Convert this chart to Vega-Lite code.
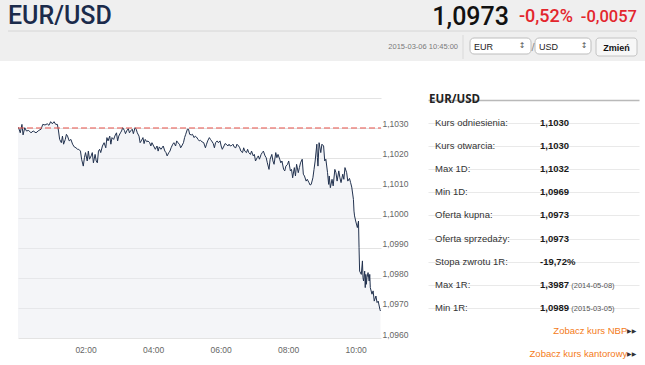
{
  "$schema": "https://vega.github.io/schema/vega-lite/v6.json",
  "padding": 0,
  "background": "#ffffff",
  "spacing": 26,
  "config": {"view": {"stroke": null}, "font": "Liberation Sans"},
  "datasets": {
    "line": [
      {"m":0,"v":1.1030},{"m":1,"v":1.10301},{"m":4,"v":1.10284},{"m":7,"v":1.10312},{"m":9,"v":1.10277},{"m":12,"v":1.10301},{"m":15,"v":1.10290},{"m":19,"v":1.10292},{"m":23,"v":1.10284},{"m":27,"v":1.10290},{"m":32,"v":1.10284},{"m":37,"v":1.10292},{"m":41,"v":1.10296},{"m":44,"v":1.10312},{"m":48,"v":1.10310},{"m":52,"v":1.10314},{"m":55,"v":1.10309},{"m":58,"v":1.10321},{"m":61,"v":1.10314},{"m":64,"v":1.10321},{"m":67,"v":1.10312},{"m":70,"v":1.10312},{"m":72,"v":1.10290},{"m":74,"v":1.10262},{"m":77,"v":1.10251},{"m":79,"v":1.10273},{"m":81,"v":1.10246},{"m":84,"v":1.10262},{"m":86,"v":1.10279},{"m":88,"v":1.10273},{"m":91,"v":1.10257},{"m":94,"v":1.10262},{"m":97,"v":1.10246},{"m":100,"v":1.10237},{"m":103,"v":1.10234},{"m":106,"v":1.10229},{"m":108,"v":1.10229},{"m":111,"v":1.10223},{"m":113,"v":1.10196},{"m":116,"v":1.10173},{"m":118,"v":1.10201},{"m":120,"v":1.10218},{"m":123,"v":1.10190},{"m":125,"v":1.10223},{"m":127,"v":1.10196},{"m":130,"v":1.10207},{"m":132,"v":1.10218},{"m":134,"v":1.10184},{"m":137,"v":1.10212},{"m":139,"v":1.10190},{"m":141,"v":1.10184},{"m":143,"v":1.10223},{"m":145,"v":1.10229},{"m":147,"v":1.10218},{"m":150,"v":1.10240},{"m":153,"v":1.10251},{"m":156,"v":1.10234},{"m":158,"v":1.10268},{"m":160,"v":1.10257},{"m":163,"v":1.10273},{"m":165,"v":1.10246},{"m":167,"v":1.10268},{"m":170,"v":1.10262},{"m":172,"v":1.10273},{"m":175,"v":1.10284},{"m":177,"v":1.10257},{"m":179,"v":1.10273},{"m":182,"v":1.10284},{"m":184,"v":1.10290},{"m":186,"v":1.10301},{"m":189,"v":1.10292},{"m":191,"v":1.10281},{"m":193,"v":1.10290},{"m":196,"v":1.10298},{"m":198,"v":1.10284},{"m":200,"v":1.10290},{"m":203,"v":1.10296},{"m":205,"v":1.10281},{"m":208,"v":1.10301},{"m":210,"v":1.10296},{"m":212,"v":1.10284},{"m":215,"v":1.10273},{"m":217,"v":1.10251},{"m":219,"v":1.10257},{"m":222,"v":1.10268},{"m":224,"v":1.10248},{"m":226,"v":1.10262},{"m":229,"v":1.10254},{"m":231,"v":1.10257},{"m":234,"v":1.10251},{"m":236,"v":1.10240},{"m":238,"v":1.10251},{"m":241,"v":1.10240},{"m":244,"v":1.10229},{"m":247,"v":1.10240},{"m":249,"v":1.10223},{"m":251,"v":1.10237},{"m":254,"v":1.10229},{"m":256,"v":1.10234},{"m":258,"v":1.10240},{"m":261,"v":1.10223},{"m":263,"v":1.10218},{"m":265,"v":1.10207},{"m":268,"v":1.10218},{"m":270,"v":1.10223},{"m":272,"v":1.10234},{"m":275,"v":1.10246},{"m":277,"v":1.10251},{"m":280,"v":1.10240},{"m":282,"v":1.10257},{"m":284,"v":1.10251},{"m":287,"v":1.10246},{"m":289,"v":1.10234},{"m":291,"v":1.10240},{"m":294,"v":1.10251},{"m":296,"v":1.10268},{"m":298,"v":1.10279},{"m":301,"v":1.10296},{"m":303,"v":1.10296},{"m":305,"v":1.10279},{"m":308,"v":1.10277},{"m":310,"v":1.10279},{"m":313,"v":1.10268},{"m":315,"v":1.10273},{"m":317,"v":1.10270},{"m":320,"v":1.10262},{"m":322,"v":1.10257},{"m":324,"v":1.10259},{"m":327,"v":1.10254},{"m":330,"v":1.10251},{"m":333,"v":1.10234},{"m":335,"v":1.10246},{"m":337,"v":1.10257},{"m":340,"v":1.10268},{"m":342,"v":1.10262},{"m":344,"v":1.10257},{"m":347,"v":1.10248},{"m":349,"v":1.10234},{"m":351,"v":1.10251},{"m":354,"v":1.10257},{"m":356,"v":1.10251},{"m":359,"v":1.10257},{"m":361,"v":1.10240},{"m":363,"v":1.10229},{"m":366,"v":1.10240},{"m":368,"v":1.10248},{"m":370,"v":1.10246},{"m":373,"v":1.10240},{"m":375,"v":1.10246},{"m":377,"v":1.10240},{"m":380,"v":1.10242},{"m":382,"v":1.10246},{"m":384,"v":1.10237},{"m":387,"v":1.10234},{"m":389,"v":1.10246},{"m":392,"v":1.10240},{"m":394,"v":1.10234},{"m":396,"v":1.10223},{"m":399,"v":1.10218},{"m":401,"v":1.10234},{"m":403,"v":1.10223},{"m":406,"v":1.10218},{"m":408,"v":1.10229},{"m":410,"v":1.10218},{"m":413,"v":1.10212},{"m":415,"v":1.10223},{"m":418,"v":1.10207},{"m":420,"v":1.10212},{"m":422,"v":1.10190},{"m":425,"v":1.10201},{"m":427,"v":1.10207},{"m":429,"v":1.10196},{"m":432,"v":1.10212},{"m":434,"v":1.10218},{"m":436,"v":1.10223},{"m":439,"v":1.10207},{"m":441,"v":1.10201},{"m":443,"v":1.10184},{"m":446,"v":1.10162},{"m":448,"v":1.10196},{"m":451,"v":1.10212},{"m":453,"v":1.10190},{"m":455,"v":1.10179},{"m":458,"v":1.10218},{"m":460,"v":1.10201},{"m":462,"v":1.10212},{"m":465,"v":1.10196},{"m":467,"v":1.10184},{"m":469,"v":1.10190},{"m":472,"v":1.10162},{"m":474,"v":1.10157},{"m":476,"v":1.10173},{"m":479,"v":1.10179},{"m":481,"v":1.10190},{"m":484,"v":1.10157},{"m":486,"v":1.10162},{"m":488,"v":1.10134},{"m":491,"v":1.10168},{"m":493,"v":1.10140},{"m":495,"v":1.10179},{"m":498,"v":1.10151},{"m":500,"v":1.10168},{"m":502,"v":1.10184},{"m":505,"v":1.10196},{"m":507,"v":1.10146},{"m":509,"v":1.10140},{"m":512,"v":1.10123},{"m":514,"v":1.10129},{"m":517,"v":1.10118},{"m":519,"v":1.10110},{"m":521,"v":1.10112},{"m":524,"v":1.10134},{"m":526,"v":1.10162},{"m":528,"v":1.10190},{"m":531,"v":1.10246},{"m":532,"v":1.10201},{"m":533,"v":1.10173},{"m":535,"v":1.10251},{"m":538,"v":1.10218},{"m":540,"v":1.10246},{"m":543,"v":1.10240},{"m":545,"v":1.10190},{"m":547,"v":1.10196},{"m":550,"v":1.10151},{"m":552,"v":1.10112},{"m":553,"v":1.10140},{"m":555,"v":1.10101},{"m":558,"v":1.10129},{"m":560,"v":1.10107},{"m":563,"v":1.10162},{"m":565,"v":1.10151},{"m":567,"v":1.10123},{"m":570,"v":1.10157},{"m":572,"v":1.10134},{"m":574,"v":1.10118},{"m":577,"v":1.10146},{"m":579,"v":1.10129},{"m":581,"v":1.10168},{"m":584,"v":1.10151},{"m":586,"v":1.10123},{"m":589,"v":1.10132},{"m":591,"v":1.10118},{"m":593,"v":1.10103},{"m":596,"v":1.10062},{"m":597,"v":1.10023},{"m":598,"v":1.10007},{"m":600,"v":1.09990},{"m":603,"v":1.09968},{"m":605,"v":1.09990},{"m":606,"v":1.09901},{"m":607,"v":1.09823},{"m":610,"v":1.09812},{"m":612,"v":1.09857},{"m":613,"v":1.09801},{"m":614,"v":1.09790},{"m":616,"v":1.09823},{"m":617,"v":1.09768},{"m":618,"v":1.09812},{"m":619,"v":1.09779},{"m":620,"v":1.09801},{"m":622,"v":1.09818},{"m":624,"v":1.09790},{"m":625,"v":1.09812},{"m":626,"v":1.09768},{"m":629,"v":1.09746},{"m":631,"v":1.09757},{"m":633,"v":1.09723},{"m":636,"v":1.09740},{"m":638,"v":1.09718},{"m":640,"v":1.09723},{"m":643,"v":1.09696},{"m":644,"v":1.09690}
    ],
    "rows": [
      {"label": "Kurs odniesienia:", "value": "1,1030", "note": ""},
      {"label": "Kurs otwarcia:", "value": "1,1030", "note": ""},
      {"label": "Max 1D:", "value": "1,1032", "note": ""},
      {"label": "Min 1D:", "value": "1,0969", "note": ""},
      {"label": "Oferta kupna:", "value": "1,0973", "note": ""},
      {"label": "Oferta sprzedaży:", "value": "1,0973", "note": ""},
      {"label": "Stopa zwrotu 1R:", "value": "-19,72%", "note": ""},
      {"label": "Max 1R:", "value": "1,3987", "note": "(2014-05-08)"},
      {"label": "Min 1R:", "value": "1,0989", "note": "(2015-03-05)"}
    ]
  },
  "vconcat": [
    {
      "width": 645,
      "height": 61,
      "view": {"fill": "#efefef", "stroke": null},
      "data": {"values": [{"k": 0}]},
      "layer": [
        {
          "data": {"values": [{"t": "EUR/USD"}]},
          "mark": {"type": "text", "align": "left", "baseline": "alphabetic", "dx": 8, "dy": 24, "font": "Roboto", "fontSize": 25, "fontWeight": 500, "color": "#1b2b4b"},
          "encoding": {
            "x": {"datum": 0, "type": "quantitative", "scale": {"domain": [0, 1], "nice": false}, "axis": null},
            "y": {"datum": 1, "type": "quantitative", "scale": {"domain": [0, 1], "nice": false}, "axis": null},
            "text": {"field": "t"}
          }
        },
        {
          "data": {"values": [{"t": "1,0973"}]},
          "mark": {"type": "text", "align": "right", "baseline": "alphabetic", "dx": -136, "dy": 25, "font": "Roboto", "fontSize": 25, "fontWeight": 500, "color": "#111111"},
          "encoding": {"x": {"datum": 1, "type": "quantitative", "axis": null}, "y": {"datum": 1, "type": "quantitative", "axis": null}, "text": {"field": "t"}}
        },
        {
          "data": {"values": [{"t": "-0,52%"}]},
          "mark": {"type": "text", "align": "right", "baseline": "alphabetic", "dx": -72, "dy": 22, "font": "Roboto", "fontSize": 18, "fontWeight": 500, "color": "#e3262d"},
          "encoding": {"x": {"datum": 1, "type": "quantitative", "axis": null}, "y": {"datum": 1, "type": "quantitative", "axis": null}, "text": {"field": "t"}}
        },
        {
          "data": {"values": [{"t": "-0,0057"}]},
          "mark": {"type": "text", "align": "right", "baseline": "alphabetic", "dx": -8, "dy": 22, "font": "Roboto", "fontSize": 16.5, "fontWeight": 500, "color": "#e3262d"},
          "encoding": {"x": {"datum": 1, "type": "quantitative", "axis": null}, "y": {"datum": 1, "type": "quantitative", "axis": null}, "text": {"field": "t"}}
        },
        {
          "mark": {"type": "rule", "color": "#d6d6d6", "strokeWidth": 1, "xOffset": 8, "x2Offset": -8, "yOffset": 31},
          "encoding": {"x": {"datum": 0, "type": "quantitative", "axis": null}, "x2": {"datum": 1}, "y": {"datum": 1, "type": "quantitative", "axis": null}}
        },
        {
          "data": {"values": [{"t": "2015-03-06 10:45:00"}]},
          "mark": {"type": "text", "align": "right", "baseline": "alphabetic", "dx": -187, "dy": 49, "fontSize": 7.5, "color": "#7a7a7a"},
          "encoding": {"x": {"datum": 1, "type": "quantitative", "axis": null}, "y": {"datum": 1, "type": "quantitative", "axis": null}, "text": {"field": "t"}}
        },
        {
          "mark": {"type": "rule", "color": "#d9d9d9", "strokeWidth": 1, "xOffset": -182, "yOffset": 35, "y2Offset": 59},
          "encoding": {"x": {"datum": 1, "type": "quantitative", "axis": null}, "y": {"datum": 1, "type": "quantitative", "axis": null}, "y2": {"datum": 1}}
        },
        {
          "mark": {"type": "rect", "fill": "#ffffff", "stroke": "#bdbdbd", "strokeWidth": 1, "cornerRadius": 4, "xOffset": -175, "x2Offset": -114, "yOffset": 38, "y2Offset": 54},
          "encoding": {"x": {"datum": 1, "type": "quantitative", "axis": null}, "x2": {"datum": 1}, "y": {"datum": 1, "type": "quantitative", "axis": null}, "y2": {"datum": 1}}
        },
        {
          "mark": {"type": "rect", "fill": "#ffffff", "stroke": "#bdbdbd", "strokeWidth": 1, "cornerRadius": 4, "xOffset": -110, "x2Offset": -54, "yOffset": 38, "y2Offset": 54},
          "encoding": {"x": {"datum": 1, "type": "quantitative", "axis": null}, "x2": {"datum": 1}, "y": {"datum": 1, "type": "quantitative", "axis": null}, "y2": {"datum": 1}}
        },
        {
          "mark": {"type": "rect", "fill": "#f7f7f7", "stroke": "#c4c4c4", "strokeWidth": 1, "cornerRadius": 3, "xOffset": -49, "x2Offset": -8, "yOffset": 38, "y2Offset": 56},
          "encoding": {"x": {"datum": 1, "type": "quantitative", "axis": null}, "x2": {"datum": 1}, "y": {"datum": 1, "type": "quantitative", "axis": null}, "y2": {"datum": 1}}
        },
        {
          "data": {"values": [{"t": "EUR"}]},
          "mark": {"type": "text", "align": "left", "baseline": "alphabetic", "dx": -171, "dy": 50, "fontSize": 9, "color": "#222222"},
          "encoding": {"x": {"datum": 1, "type": "quantitative", "axis": null}, "y": {"datum": 1, "type": "quantitative", "axis": null}, "text": {"field": "t"}}
        },
        {
          "data": {"values": [{"t": "USD"}]},
          "mark": {"type": "text", "align": "left", "baseline": "alphabetic", "dx": -106, "dy": 50, "fontSize": 9, "color": "#222222"},
          "encoding": {"x": {"datum": 1, "type": "quantitative", "axis": null}, "y": {"datum": 1, "type": "quantitative", "axis": null}, "text": {"field": "t"}}
        },
        {
          "data": {"values": [{"t": "↕"}]},
          "mark": {"type": "text", "align": "center", "baseline": "middle", "dx": -123, "dy": 46, "font": "DejaVu Sans", "fontSize": 8, "color": "#555555"},
          "encoding": {"x": {"datum": 1, "type": "quantitative", "axis": null}, "y": {"datum": 1, "type": "quantitative", "axis": null}, "text": {"field": "t"}}
        },
        {
          "data": {"values": [{"t": "↕"}]},
          "mark": {"type": "text", "align": "center", "baseline": "middle", "dx": -61, "dy": 46, "font": "DejaVu Sans", "fontSize": 8, "color": "#555555"},
          "encoding": {"x": {"datum": 1, "type": "quantitative", "axis": null}, "y": {"datum": 1, "type": "quantitative", "axis": null}, "text": {"field": "t"}}
        },
        {
          "data": {"values": [{"t": "/"}]},
          "mark": {"type": "text", "align": "center", "baseline": "alphabetic", "dx": -112, "dy": 51, "fontSize": 11, "color": "#8a8a8a"},
          "encoding": {"x": {"datum": 1, "type": "quantitative", "axis": null}, "y": {"datum": 1, "type": "quantitative", "axis": null}, "text": {"field": "t"}}
        },
        {
          "data": {"values": [{"t": "Zmień"}]},
          "mark": {"type": "text", "align": "center", "baseline": "alphabetic", "dx": -28.5, "dy": 50.5, "fontSize": 9, "fontWeight": "bold", "color": "#111111"},
          "encoding": {"x": {"datum": 1, "type": "quantitative", "axis": null}, "y": {"datum": 1, "type": "quantitative", "axis": null}, "text": {"field": "t"}}
        }
      ]
    },
    {
      "spacing": 0,
      "hconcat": [
        {
          "width": 16,
          "height": 10,
          "data": {"values": [{"a": 0}]},
          "mark": {"type": "text", "text": ""}
        },
        {
          "width": 363,
          "height": 250,
          "data": {"name": "line"},
          "encoding": {
            "x": {"field": "m", "type": "quantitative", "scale": {"domain": [0, 645], "nice": false, "zero": false},
              "axis": {"values": [120, 240, 360, 480, 600], "labelExpr": "(datum.value < 600 ? '0' : '') + format(datum.value / 60, 'd') + ':00'", "title": null, "grid": false, "ticks": false, "domain": false, "labelPadding": 7, "labelFontSize": 8.5, "labelColor": "#666666", "labelOverlap": false}},
            "y": {"field": "v", "type": "quantitative", "stack": null, "scale": {"domain": [1.096, 1.1043333], "nice": false, "zero": false},
              "axis": {"orient": "right", "values": [1.096, 1.097, 1.098, 1.099, 1.1, 1.101, 1.102, 1.103, 1.104], "labelExpr": "datum.value > 1.1035 ? '' : replace(format(datum.value, '.4f'), '.', ',')", "title": null, "grid": true, "gridColor": "#e3e3e3", "ticks": false, "domain": false, "labelPadding": 1, "labelFontSize": 8.5, "labelColor": "#666666", "labelBaseline": "middle", "labelOffset": -4, "labelOverlap": false, "minExtent": 30, "maxExtent": 30}}
          },
          "layer": [
            {"mark": {"type": "area", "color": "#e9ebf1", "opacity": 0.5}},
            {"mark": {"type": "line", "color": "#22324f", "strokeWidth": 1}},
            {
              "data": {"values": [{"m": 0, "m2": 645, "ref": 1.103}]},
              "mark": {"type": "rule", "color": "#e8534a", "strokeDash": [6, 3], "strokeWidth": 1},
              "encoding": {"x2": {"field": "m2"}, "y": {"field": "ref", "type": "quantitative"}}
            }
          ]
        },
        {
          "width": 17,
          "height": 10,
          "data": {"values": [{"a": 0}]},
          "mark": {"type": "text", "text": ""}
        },
        {
          "width": 211,
          "height": 278,
          "encoding": {
            "y": {"field": "label", "type": "nominal", "sort": null,
              "scale": {"domain": ["EUR/USD", "Kurs odniesienia:", "Kurs otwarcia:", "Max 1D:", "Min 1D:", "Oferta kupna:", "Oferta sprzedaży:", "Stopa zwrotu 1R:", "Max 1R:", "Min 1R:", "Zobacz kurs NBP", "Zobacz kurs kantorowy"], "paddingInner": 0, "paddingOuter": 0},
              "axis": {"title": null, "orient": "left", "labels": false, "ticks": false, "domain": false, "grid": true, "bandPosition": 1, "minExtent": 0, "maxExtent": 0,
                "values": ["EUR/USD", "Kurs odniesienia:", "Kurs otwarcia:", "Max 1D:", "Min 1D:", "Oferta kupna:", "Oferta sprzedaży:", "Stopa zwrotu 1R:", "Max 1R:", "Min 1R:"],
                "gridColor": {"condition": {"test": "datum.value === 'EUR/USD'", "value": "#b9b9b9"}, "value": "#e9e9e9"},
                "gridWidth": {"condition": {"test": "datum.value === 'EUR/USD'", "value": 1.5}, "value": 1}}}
          },
          "layer": [
            {
              "data": {"values": [{"label": "EUR/USD"}]},
              "mark": {"type": "text", "align": "left", "baseline": "middle", "dx": -51.75, "font": "Open Sans", "fontSize": 11.5, "fontWeight": "bold", "color": "#222222"},
              "encoding": {
                "x": {"datum": "label", "type": "nominal", "scale": {"domain": ["label", "value"], "paddingInner": 0, "paddingOuter": 0}, "axis": null},
                "text": {"field": "label"}
              }
            },
            {
              "data": {"name": "rows"},
              "mark": {"type": "text", "align": "left", "baseline": "middle", "dx": -45.75, "fontSize": 9.5, "color": "#333333"},
              "encoding": {"x": {"datum": "label", "type": "nominal", "axis": null}, "text": {"field": "label"}}
            },
            {
              "data": {"name": "rows"},
              "mark": {"type": "text", "align": "left", "baseline": "middle", "dx": -46.25, "fontSize": 9.5, "fontWeight": "bold", "color": "#1a1a1a"},
              "encoding": {"x": {"datum": "value", "type": "nominal", "axis": null}, "text": {"field": "value"}}
            },
            {
              "data": {"name": "rows"},
              "mark": {"type": "text", "align": "left", "baseline": "middle", "dx": -15, "dy": 1, "fontSize": 7.5, "color": "#555555"},
              "encoding": {"x": {"datum": "value", "type": "nominal", "axis": null}, "text": {"field": "note"}}
            },
            {
              "data": {"values": [{"label": "Zobacz kurs NBP"}, {"label": "Zobacz kurs kantorowy"}]},
              "mark": {"type": "text", "align": "right", "baseline": "middle", "dx": 41, "fontSize": 9.5, "color": "#f47b20"},
              "encoding": {"x": {"datum": "value", "type": "nominal", "axis": null}, "text": {"field": "label"}}
            },
            {
              "data": {"values": [{"label": "Zobacz kurs NBP"}, {"label": "Zobacz kurs kantorowy"}]},
              "mark": {"type": "text", "align": "right", "baseline": "middle", "dx": 50, "font": "DejaVu Sans", "fontSize": 6, "color": "#333333", "text": "▶▶"},
              "encoding": {"x": {"datum": "value", "type": "nominal", "axis": null}}
            }
          ]
        }
      ]
    }
  ]
}
